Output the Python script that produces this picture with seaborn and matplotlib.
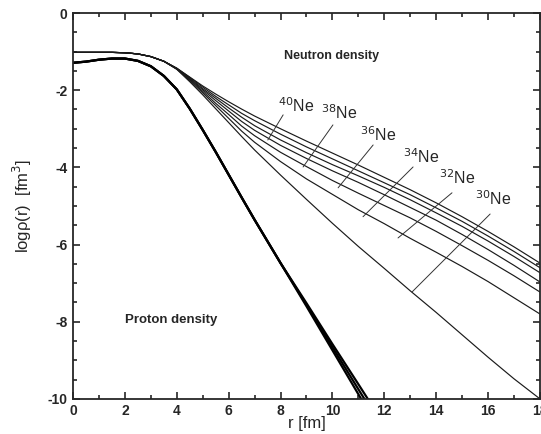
import numpy as np
import pandas as pd
import seaborn as sns
import matplotlib.pyplot as plt
from matplotlib.ticker import MultipleLocator

sns.set_theme(style="ticks")
plt.rcParams['font.family'] = ['Liberation Sans', 'DejaVu Sans']
plt.rcParams['axes.unicode_minus'] = False

# radial grid [fm]
r_n = [0, 0.5, 1, 1.5, 2, 2.5, 3, 3.5, 4, 4.5, 5, 5.5, 6, 6.5, 7,
       8, 9, 10, 11, 12, 13, 14, 15, 16, 17, 18]
r_p = [0, 0.5, 1, 1.5, 2, 2.5, 3, 3.5, 4, 4.5, 5, 5.5, 6, 6.5, 7,
       8, 9, 10, 11, 11.6]

# neutron densities, log10 rho(r), top curve to bottom curve
core_n = [-1.02, -1.02, -1.02, -1.02, -1.03, -1.06, -1.13, -1.25]
rho_n1 = core_n + [-1.43, -1.66, -1.89, -2.10, -2.30, -2.49, -2.67, -3.00, -3.32, -3.63,
                   -3.94, -4.26, -4.58, -4.92, -5.28, -5.66, -6.06, -6.48]
rho_n2 = core_n + [-1.43, -1.67, -1.92, -2.16, -2.38, -2.60, -2.79, -3.14, -3.47, -3.78,
                   -4.09, -4.40, -4.71, -5.05, -5.40, -5.78, -6.18, -6.60]
rho_n3 = core_n + [-1.44, -1.69, -1.96, -2.21, -2.46, -2.70, -2.92, -3.29, -3.62, -3.93,
                   -4.22, -4.52, -4.84, -5.18, -5.53, -5.91, -6.31, -6.73]
rho_n4 = core_n + [-1.44, -1.71, -1.99, -2.27, -2.54, -2.81, -3.04, -3.43, -3.77, -4.09,
                   -4.39, -4.71, -5.04, -5.37, -5.74, -6.13, -6.54, -6.97]
rho_n5 = core_n + [-1.45, -1.73, -2.03, -2.34, -2.63, -2.93, -3.18, -3.61, -3.98, -4.34,
                   -4.67, -4.99, -5.31, -5.66, -6.03, -6.41, -6.81, -7.23]
rho_n6 = core_n + [-1.45, -1.75, -2.07, -2.40, -2.73, -3.06, -3.35, -3.85, -4.30, -4.70,
                   -5.10, -5.46, -5.84, -6.20, -6.57, -6.96, -7.38, -7.80]
rho_n7 = core_n + [-1.46, -1.78, -2.12, -2.48, -2.84, -3.20, -3.55, -4.20, -4.83, -5.45,
                   -6.05, -6.62, -7.20, -7.76, -8.34, -8.92, -9.48, -10.00]

# proton densities (almost identical for all isotopes)
core_p = [-1.29, -1.26, -1.21, -1.18, -1.18, -1.24, -1.38, -1.63, -1.98, -2.48,
          -3.03, -3.60, -4.19, -4.78, -5.36, -6.48]
rho_p1 = core_p + [-7.52, -8.58, -9.62, -10.25]
rho_p2 = core_p + [-7.56, -8.66, -9.75, -10.40]
rho_p3 = core_p + [-7.60, -8.74, -9.88, -10.55]

# isotope labels: label centre, pointer start, pointer end (data coords)
iso_labels = ["40", "38", "36", "34", "32", "30"]
label_xy = [(8.6, -2.40), (10.25, -2.58), (11.78, -3.15), (13.42, -3.72), (14.8, -4.26), (16.2, -4.82)]
ptr_start = [(8.10, -2.64), (10.02, -2.90), (11.57, -3.42), (13.11, -3.99), (14.61, -4.66), (16.08, -5.21)]
ptr_end = [(7.51, -3.29), (8.87, -3.99), (10.22, -4.53), (11.18, -5.28), (12.53, -5.83), (13.07, -7.23)]

neutron = pd.concat([pd.DataFrame({"r": r_n, "logrho": v, "curve": i})
                     for i, v in enumerate([rho_n1, rho_n2, rho_n3, rho_n4, rho_n5, rho_n6, rho_n7])])
proton = pd.concat([pd.DataFrame({"r": r_p, "logrho": v, "curve": i})
                    for i, v in enumerate([rho_p1, rho_p2, rho_p3])])

fig = plt.figure(figsize=(5.41, 4.34), dpi=100)
ax = fig.add_axes([0.135, 0.081, 0.863, 0.889])

sns.lineplot(data=neutron, x="r", y="logrho", units="curve", estimator=None,
             color="#1a1a1a", lw=0.85, ax=ax)
sns.lineplot(data=proton, x="r", y="logrho", units="curve", estimator=None,
             color="black", lw=1.6, ax=ax)

for lab, (lx, ly), (sx, sy), (ex, ey) in zip(iso_labels, label_xy, ptr_start, ptr_end):
    ax.plot([sx, ex], [sy, ey], color="#333333", lw=0.7)
    ax.text(lx, ly, r"$^{%s}$Ne" % lab, ha="center", va="center", fontsize=11.5)

ax.text(8.15, -1.12, "Neutron density", fontsize=9, fontweight="bold", va="center")
ax.text(2.0, -7.95, "Proton density", fontsize=9.5, fontweight="bold", va="center")

ax.set_xlim(0, 18)
ax.set_ylim(-10, 0)
ax.set_xticks(np.arange(0, 19, 2))
ax.set_yticks(np.arange(-10, 1, 2))
ax.xaxis.set_minor_locator(MultipleLocator(1))
ax.yaxis.set_minor_locator(MultipleLocator(0.5))
ax.tick_params(which="both", direction="in", top=True, right=True, width=1.2)
ax.tick_params(which="major", length=5, labelsize=10, pad=4)
ax.tick_params(which="minor", length=3)
for t in ax.get_xticklabels() + ax.get_yticklabels():
    t.set_fontweight("bold")
for s in ax.spines.values():
    s.set_linewidth(1.3)

ax.set_xlabel("r [fm]", fontsize=12, labelpad=-2)
ax.set_ylabel("logρ(r)  [fm$^3$]", fontsize=12, labelpad=10)

fig.savefig("out.png", dpi=100)
